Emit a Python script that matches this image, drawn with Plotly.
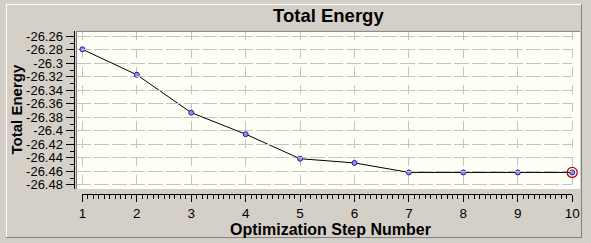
import plotly.graph_objects as go

steps = [1, 2, 3, 4, 5, 6, 7, 8, 9, 10]
energy = [-26.2793, -26.3170, -26.3731, -26.4050, -26.4413, -26.4475,
          -26.4616, -26.4616, -26.4616, -26.4616]
ytick_vals = [-26.26, -26.28, -26.30, -26.32, -26.34, -26.36, -26.38,
              -26.40, -26.42, -26.44, -26.46, -26.48]
ytick_text = ["-26.26", "-26.28", "-26.3", "-26.32", "-26.34", "-26.36",
              "-26.38", "-26.4", "-26.42", "-26.44", "-26.46", "-26.48"]
xtick_vals = steps
xtick_text = [str(s) for s in steps]
title_text = "Total Energy"
xtitle_text = "Optimization Step Number"
ytitle_text = "Total Energy"

W, H = 591, 243
FONT = "Liberation Sans, Arial, sans-serif"

def px(x):
    return x / W

def py(y):
    return (H - y) / H

# plot area in pixels
L, R, T, B = 74, 588, 30, 191
sx = (580 - 80) / 9.0
xr = [1 + (L - 80) / sx, 1 + (R - 80) / sx]
sy = (186.7 - 35) / 0.22
yr = [-26.26 - (B - 35) / sy, -26.26 - (T - 35) / sy]

fig = go.Figure()
fig.add_trace(go.Scatter(
    x=steps, y=energy, mode="lines+markers",
    line=dict(color="black", width=1),
    marker=dict(size=5, color="#9090f4", line=dict(color="#202090", width=1)),
    showlegend=False, hoverinfo="skip"))
fig.add_trace(go.Scatter(
    x=[steps[-1]], y=[energy[-1]], mode="markers",
    marker=dict(size=10, symbol="circle-open", color="#c00000", line=dict(width=1.3)),
    showlegend=False, hoverinfo="skip"))
fig.add_trace(go.Scatter(x=[None], y=[None], xaxis="x2", yaxis="y",
                         showlegend=False, hoverinfo="skip"))

fig.update_layout(
    width=W, height=H,
    margin=dict(l=0, r=0, t=0, b=0, pad=0),
    paper_bgcolor="#d4d0c8",
    plot_bgcolor="rgba(0,0,0,0)",
    font=dict(family=FONT, size=13, color="black"),
    xaxis=dict(domain=[px(L), px(R)], range=xr, showgrid=True,
               gridcolor="#c4c4c4", griddash="dash", gridwidth=1,
               tickvals=xtick_vals, showticklabels=False, ticks="",
               zeroline=False, showline=False, anchor="y"),
    xaxis2=dict(domain=[px(80), px(580)], range=[1, 10], anchor="free",
                position=py(196), showgrid=False, zeroline=False,
                showline=True, linecolor="black", linewidth=1,
                tickvals=xtick_vals, ticktext=xtick_text,
                ticks="outside", ticklen=7, tickcolor="black", tickwidth=1,
                minor=dict(ticks="outside", ticklen=4, dtick=0.1,
                           tickcolor="black", tickwidth=1, showgrid=False),
                tickfont=dict(size=13.5, family=FONT)),
    yaxis=dict(domain=[py(B), py(T)], range=yr, anchor="free",
               position=px(71), showgrid=True, gridcolor="#c4c4c4",
               griddash="dash", gridwidth=1, zeroline=False,
               showline=True, linecolor="black", linewidth=1,
               tickvals=ytick_vals, ticktext=ytick_text,
               ticks="outside", ticklen=8, tickcolor="black", tickwidth=1,
               minor=dict(ticks="outside", ticklen=4, dtick=0.01,
                          tick0=-26.26, tickcolor="black", tickwidth=1,
                          showgrid=False),
               tickfont=dict(size=13, family=FONT)),
)

shapes = [
    dict(type="rect", xref="paper", yref="paper", x0=px(L), x1=px(R),
         y0=py(B), y1=py(T), fillcolor="#fffff8", line=dict(width=0),
         layer="below"),
    dict(type="line", xref="paper", yref="paper", x0=px(L), x1=px(R),
         y0=py(T), y1=py(T), line=dict(color="#808080", width=1)),
    dict(type="line", xref="paper", yref="paper", x0=px(L), x1=px(L),
         y0=py(B), y1=py(T), line=dict(color="#808080", width=1)),
    dict(type="line", xref="paper", yref="paper", x0=px(2), x1=px(589),
         y0=py(2.5), y1=py(2.5), line=dict(color="white", width=1)),
    dict(type="line", xref="paper", yref="paper", x0=px(2.5), x1=px(2.5),
         y0=py(240), y1=py(2), line=dict(color="white", width=1)),
    dict(type="line", xref="paper", yref="paper", x0=px(589.5), x1=px(589.5),
         y0=py(240), y1=py(2), line=dict(color="#808080", width=1)),
    dict(type="line", xref="paper", yref="paper", x0=px(2), x1=px(590),
         y0=py(240.5), y1=py(240.5), line=dict(color="#808080", width=1)),
]
fig.update_layout(shapes=shapes)

fig.add_annotation(text="<b>" + title_text + "</b>", xref="paper", yref="paper",
                   x=px(331), y=py(14), showarrow=False,
                   font=dict(size=18.5, family=FONT, color="black"),
                   xanchor="center", yanchor="middle")
fig.add_annotation(text="<b>" + xtitle_text + "</b>", xref="paper", yref="paper",
                   x=px(333), y=py(232), showarrow=False,
                   font=dict(size=16, family=FONT, color="black"),
                   xanchor="center", yanchor="middle")
fig.add_annotation(text="<b>" + ytitle_text + "</b>", xref="paper", yref="paper",
                   x=px(13), y=py(110), showarrow=False, textangle=-90,
                   font=dict(size=15, family=FONT, color="black"),
                   xanchor="center", yanchor="middle")

fig.write_html("out.html")
